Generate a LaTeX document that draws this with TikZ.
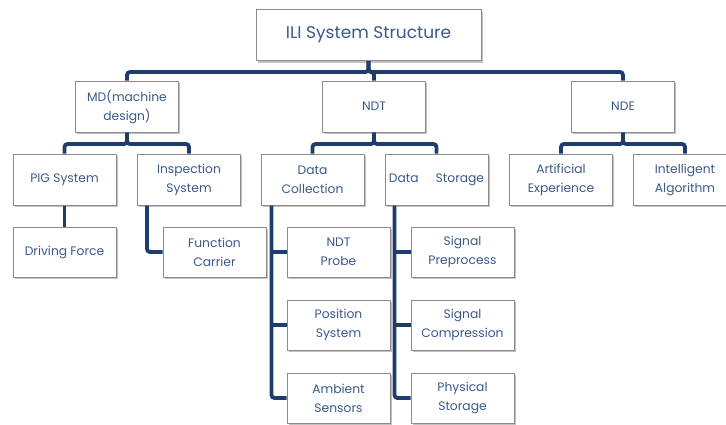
\documentclass[tikz,border=0pt]{standalone}
\usepackage{fontspec}
\setmainfont{Poppins}
\usepackage{tikz}
\usetikzlibrary{shadows}
\definecolor{linkblue}{HTML}{1F3D6B}
\definecolor{textblue}{HTML}{3B5A8A}
\definecolor{boxgray}{HTML}{8C8C8C}
\begin{document}
\begin{tikzpicture}[x=1pt,y=-1pt]
\tikzstyle{box} = [draw=boxgray, fill=white, line width=1pt, text=textblue, align=center, inner sep=0pt, minimum width=103pt, minimum height=51pt, font=\fontsize{12.3}{19}\selectfont, drop shadow={shadow xshift=1.5pt, shadow yshift=-2pt, opacity=0.4, fill=black!60}]
\tikzstyle{link} = [draw=linkblue, line width=3.8pt, rounded corners=3pt]
\useasboundingbox (0,0) rectangle (726,424);
\node [box, minimum width=225pt, font=\fontsize{17}{20}\selectfont] (root) at (368.5,35) {ILI System Structure};
\node [box] (md) at (127,106.5) {MD(machine\\design)};
\node [box] (ndt) at (374,106.5) {NDT};
\node [box] (nde) at (623,106.5) {NDE};
\node [box] (pig) at (64.5,179.5) {PIG System};
\node [box] (insp) at (189,179.5) {Inspection\\System};
\node [box] (dc) at (312.5,179.5) {Data\\Collection};
\node [box] (ds) at (436.5,179.5) {Data\hspace{17pt}Storage};
\node [box] (art) at (561,179.5) {Artificial\\Experience};
\node [box] (alg) at (685,179.5) {Intelligent\\Algorithm};
\node [box, minimum height=50pt] (drv) at (64.5,252) {Driving Force};
\node [box, minimum height=50pt] (fc) at (214.5,252) {Function\\Carrier};
\node [box, minimum height=50pt] (probe) at (338.5,252) {NDT\\Probe};
\node [box, minimum height=50pt] (pos) at (338.5,325) {Position\\System};
\node [box, minimum height=50pt] (amb) at (338.5,398) {Ambient\\Sensors};
\node [box, minimum height=50pt] (pre) at (462.5,252) {Signal\\Preprocess};
\node [box, minimum height=50pt] (comp) at (462.5,325) {Signal\\Compression};
\node [box, minimum height=50pt] (phys) at (462.5,398) {Physical\\Storage};
\draw [link] (root.south) -- ++(0,11) -| (md.north);
\draw [link] (root.south) -- ++(0,11) -| (ndt.north);
\draw [link] (root.south) -- ++(0,11) -| (nde.north);
\draw [link] (md.south) -- ++(0,11.5) -| (pig.north);
\draw [link] (md.south) -- ++(0,11.5) -| (insp.north);
\draw [link] (ndt.south) -- ++(0,11.5) -| (dc.north);
\draw [link] (ndt.south) -- ++(0,11.5) -| (ds.north);
\draw [link] (nde.south) -- ++(0,11.5) -| (art.north);
\draw [link] (nde.south) -- ++(0,11.5) -| (alg.north);
\draw [link] (pig) -- (drv);
\coordinate (inspbus) at ([xshift=10pt]insp.south west);
\draw [link] (inspbus) |- (fc.west);
\coordinate (dcbus) at ([xshift=11pt]dc.south west);
\draw [link] (dcbus) |- (amb.west);
\draw [link] (dcbus |- probe.west) -- (probe.west);
\draw [link] (dcbus |- pos.west) -- (pos.west);
\coordinate (dsbus) at ([xshift=10pt]ds.south west);
\draw [link] (dsbus) |- (phys.west);
\draw [link] (dsbus |- pre.west) -- (pre.west);
\draw [link] (dsbus |- comp.west) -- (comp.west);
\end{tikzpicture}
\end{document}
